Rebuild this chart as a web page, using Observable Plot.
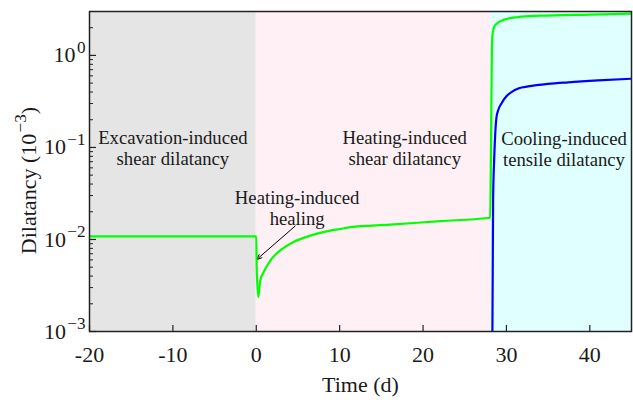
<!DOCTYPE html>
<html>
<head>
<meta charset="utf-8">
<script src="https://cdn.jsdelivr.net/npm/d3@7"></script>
<script src="https://cdn.jsdelivr.net/npm/@observablehq/plot@0.6"></script>
<style>
  html, body { margin: 0; padding: 0; background: #fff; }
</style>
</head>
<body>
<div id="chart"></div>
<script>
// Loading phases shaded behind the curves
const phaseLabels = ["Excavation-induced\nshear dilatancy", "Heating-induced\nshear dilatancy", "Cooling-induced\ntensile dilatancy"];
const phaseStart = [-20, 0, 28.1];
const phaseEnd = [0, 28.1, 45];
const phaseFill = ["#e5e5e5", "#fff0f5", "#e0ffff"];
const phaseLabelX = [-10, 17.8, 36.9];
const phaseLabelY = [0.1, 0.1, 0.097];

// Shear dilatancy (green), in 10^-3
const shearTime = [-20, 0, 0.05, 0.24, 0.48, 0.88, 1.68, 2.87, 4.47, 6.47, 8.86, 10.06, 11.26, 16.05, 22.04, 27.8, 28.05, 28.15, 28.25, 28.32, 28.62, 29.8, 31.4, 34, 40, 45];
const shearDilatancy = [0.0108, 0.0108, 0.005, 0.00236, 0.0036, 0.0044, 0.0059, 0.0076, 0.0094, 0.011, 0.0125, 0.013, 0.0136, 0.0145, 0.0158, 0.0171, 0.0172, 0.1, 1.0, 1.65, 2.12, 2.46, 2.61, 2.7, 2.78, 2.84];

// Tensile dilatancy (blue), in 10^-3
const tensileTime = [28.32, 28.4, 28.55, 28.8, 29.0, 29.4, 30.0, 30.6, 31.5, 32.6, 35, 37.4, 41, 45];
const tensileDilatancy = [0.001, 0.026, 0.082, 0.21, 0.252, 0.30, 0.36, 0.40, 0.44, 0.46, 0.49, 0.51, 0.535, 0.558];

// Healing annotation
const healingLabel = "Heating-induced\nhealing";
const healingLabelAt = [4.9, 0.0222];
const healingArrowFrom = [4.67, 0.014];
const healingArrowTo = [0, 0.006];

// Axes
const xTicks = [-20, -10, 0, 10, 20, 30, 40];
const yTicks = [1e-3, 1e-2, 1e-1, 1];
const yMinorTicks = [-3, -2, -1, 0].flatMap(e => [2, 3, 4, 5, 6, 7, 8, 9].map(m => m * 10 ** e)).filter(v => v <= 3);
const xTitle = "Time (d)";
const yTitle = "Dilatancy (10^{−3})";

const phases = phaseLabels.map((label, i) => ({label, start: phaseStart[i], end: phaseEnd[i], fill: phaseFill[i], lx: phaseLabelX[i], ly: phaseLabelY[i]}));
const shear = shearTime.map((t, i) => ({t, v: shearDilatancy[i]}));
const tensile = tensileTime.map((t, i) => ({t, v: tensileDilatancy[i]}));

const ink = "#1a1a1a";
const axisFont = 22;
const serif = "'Liberation Serif', 'Times New Roman', serif";

const W = 633, H = 400, ML = 89, MR = 2, MT = 11, MB = 69;
const frameW = W - ML - MR, frameH = H - MT - MB;

const chart = Plot.plot({
  width: W,
  height: H,
  marginLeft: ML,
  marginRight: MR,
  marginTop: MT,
  marginBottom: MB,
  style: {background: "#fff", color: ink, fontFamily: serif},
  x: {domain: [-20, 45]},
  y: {type: "log", domain: [1e-3, 3]},
  color: {type: "identity"},
  marks: [
    Plot.rect(phases, {x1: "start", x2: "end", fill: "fill"}),
    Plot.text(phases, {x: "lx", y: "ly", text: "label", fontSize: 18.7, lineHeight: 1.15, fill: ink}),
    Plot.text([healingLabel], {x: healingLabelAt[0], y: healingLabelAt[1], text: d => d, fontSize: 18.7, lineHeight: 1.15, fill: ink}),
    Plot.arrow([0], {x1: healingArrowFrom[0], y1: healingArrowFrom[1], x2: healingArrowTo[0], y2: healingArrowTo[1], stroke: "#000", strokeWidth: 1, headLength: 9, headAngle: 40}),
    Plot.line(tensile, {x: "t", y: "v", stroke: "#0000ff", strokeWidth: 2.2, curve: "monotone-x", clip: true}),
    Plot.line(shear, {x: "t", y: "v", stroke: "#00ff00", strokeWidth: 2.2, curve: "monotone-x", clip: true}),
    // inward tick marks: short ticks hugging the left and bottom edges
    Plot.tickY(yTicks, {y: d => d, insetRight: frameW - 7, stroke: "#222", strokeWidth: 1.2}),
    Plot.tickY(yMinorTicks, {y: d => d, insetRight: frameW - 4, stroke: "#222", strokeWidth: 1}),
    Plot.tickX(xTicks, {x: d => d, insetTop: frameH - 6, stroke: "#222", strokeWidth: 1.2}),
    Plot.frame({stroke: "#222", strokeWidth: 1.5}),
    // tick labels
    Plot.axisY(yTicks, {tickSize: 0, tickPadding: 4, fontSize: axisFont, fill: ink, label: null,
      tickFormat: d => `10^{${Math.round(Math.log10(d)).toString().replace("-", "−")}}`}),
    Plot.axisX(xTicks, {tickSize: 0, tickPadding: 15, fontSize: axisFont, fill: ink, label: null, tickFormat: d => String(d)}),
    // axis titles
    Plot.text([xTitle], {frameAnchor: "bottom", lineAnchor: "middle", dy: 53, text: d => d, fontSize: axisFont, fill: ink}),
    Plot.text([yTitle], {frameAnchor: "left", textAnchor: "middle", lineAnchor: "middle", dx: -61, dy: 9, rotate: -90, text: d => d, fontSize: axisFont, fill: ink})
  ]
});

// Render "^{...}" as a raised, smaller tspan
d3.select(chart).selectAll("text, tspan").each(function() {
  if (this.querySelector && this.querySelector("tspan")) return;
  const s = this.textContent;
  const m = s.match(/^(.*?)\^\{(.*?)\}(.*)$/);
  if (!m) return;
  const fs = parseFloat(this.getAttribute("font-size")) || parseFloat(this.parentNode.getAttribute("font-size")) || axisFont;
  const ns = "http://www.w3.org/2000/svg";
  this.textContent = m[1];
  const sup = document.createElementNS(ns, "tspan");
  sup.setAttribute("dx", (0.06 * fs).toFixed(2));
  sup.setAttribute("dy", (-0.42 * fs).toFixed(2));
  sup.setAttribute("font-size", (0.78 * fs).toFixed(2));
  sup.textContent = m[2];
  this.appendChild(sup);
  if (m[3]) {
    const rest = document.createElementNS(ns, "tspan");
    rest.setAttribute("dy", (0.42 * fs).toFixed(2));
    rest.textContent = m[3];
    this.appendChild(rest);
  }
});

document.getElementById("chart").appendChild(chart);
</script>
</body>
</html>
